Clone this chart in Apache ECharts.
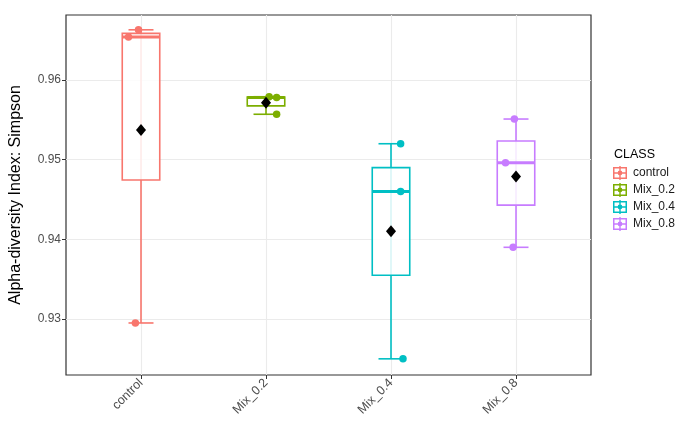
<!DOCTYPE html>
<html>
<head>
<meta charset="utf-8">
<script src="https://cdn.jsdelivr.net/npm/echarts@6/dist/echarts.min.js"></script>
<style>
html,body{margin:0;padding:0;background:#fff;}
#chart{width:684px;height:421px;}
</style>
</head>
<body>
<div id="chart"></div>
<script>
// ---- data ----
const categories = ['control', 'Mix_0.2', 'Mix_0.4', 'Mix_0.8'];
const controlValues = [0.9663, 0.9654, 0.9295];
const mix02Values = [0.9579, 0.9578, 0.9557];
const mix04Values = [0.9520, 0.9460, 0.9250];
const mix08Values = [0.9551, 0.9496, 0.9390];
// horizontal jitter of the sample points (category units)
const controlJitter = [-0.02, -0.10, -0.045];
const mix02Jitter = [0.025, 0.085, 0.085];
const mix04Jitter = [0.077, 0.077, 0.096];
const mix08Jitter = [-0.013, -0.084, -0.023];
// axis ticks
const yTicks = [0.93, 0.94, 0.95, 0.96];
const yMinorTicks = [0.925, 0.935, 0.945, 0.955, 0.965];
const yRange = [0.92297, 0.96816];

const groupValues = [controlValues, mix02Values, mix04Values, mix08Values];
const groupJitter = [controlJitter, mix02Jitter, mix04Jitter, mix08Jitter];
const colors = ['#F8766D', '#7CAE00', '#00BFC4', '#C77CFF'];
const xPositions = categories.map((c, i) => i + 1);

function quantile(arr, p) {
  const s = arr.slice().sort((a, b) => a - b);
  const h = (s.length - 1) * p;
  const lo = Math.floor(h), hi = Math.ceil(h);
  return s[lo] + (h - lo) * (s[hi] - s[lo]);
}
function boxStats(arr) {
  const q1 = quantile(arr, 0.25), med = quantile(arr, 0.5), q3 = quantile(arr, 0.75);
  const iqr = q3 - q1;
  const inside = arr.filter(v => v >= q1 - 1.5 * iqr && v <= q3 + 1.5 * iqr);
  return [Math.min(...inside), q1, med, q3, Math.max(...inside)];
}
function mean(arr) { return arr.reduce((a, b) => a + b, 0) / arr.length; }

function renderBox(params, api) {
  const x = api.value(0);
  const lo = api.coord([x, api.value(1)]);
  const q1 = api.coord([x, api.value(2)]);
  const med = api.coord([x, api.value(3)]);
  const q3 = api.coord([x, api.value(4)]);
  const hi = api.coord([x, api.value(5)]);
  const bw = api.size([0.3, 0])[0];
  const cw = api.size([0.2, 0])[0];
  const color = api.visual('color');
  const cx = lo[0];
  const ls = { stroke: color, lineWidth: 1.6 };
  return {
    type: 'group',
    children: [
      { type: 'line', shape: { x1: cx, y1: hi[1], x2: cx, y2: lo[1] }, style: ls },
      { type: 'line', shape: { x1: cx - cw / 2, y1: hi[1], x2: cx + cw / 2, y2: hi[1] }, style: ls },
      { type: 'line', shape: { x1: cx - cw / 2, y1: lo[1], x2: cx + cw / 2, y2: lo[1] }, style: ls },
      { type: 'rect', shape: { x: cx - bw / 2, y: q3[1], width: bw, height: q1[1] - q3[1] },
        style: { fill: 'rgba(255,255,255,0.85)', stroke: color, lineWidth: 1.6 } },
      { type: 'line', shape: { x1: cx - bw / 2, y1: med[1], x2: cx + bw / 2, y2: med[1] },
        style: { stroke: color, lineWidth: 3 } }
    ]
  };
}

const keyIcon = 'path://M1 1H15V13H1Z M2.5 2.5V11.5H13.5V2.5Z M1 6.3H15V7.7H1Z M7.3 0H8.7V14H7.3Z M10.4 7A2.4 2.4 0 1 1 5.6 7A2.4 2.4 0 1 1 10.4 7Z';

const series = [];
// grid lines
const gridLineData = [];
yMinorTicks.forEach(v => gridLineData.push({ yAxis: v, lineStyle: { color: '#ebebeb', width: 0.6, type: 'solid' } }));
yTicks.forEach(v => gridLineData.push({ yAxis: v, lineStyle: { color: '#ebebeb', width: 1.1, type: 'solid' } }));
xPositions.forEach(v => gridLineData.push({ xAxis: v, lineStyle: { color: '#ebebeb', width: 1.1, type: 'solid' } }));
series.push({
  type: 'line', name: 'gridlines', data: [], z: 0, silent: true,
  markLine: { z: 0, silent: true, symbol: ['none', 'none'], label: { show: false }, animation: false, data: gridLineData }
});

categories.forEach((cat, i) => {
  const vals = groupValues[i];
  series.push({
    type: 'custom', name: cat, color: colors[i], z: 2,
    renderItem: renderBox,
    encode: { x: 0, y: [1, 2, 3, 4, 5] },
    data: [[xPositions[i]].concat(boxStats(vals))]
  });
  series.push({
    type: 'scatter', name: cat, color: colors[i], z: 3,
    symbol: 'circle', symbolSize: 7.5,
    itemStyle: { opacity: 1 },
    data: vals.map((v, k) => [xPositions[i] + groupJitter[i][k], v])
  });
});
series.push({
  type: 'scatter', name: 'mean', z: 4, symbol: 'diamond', symbolSize: [10, 12],
  itemStyle: { color: '#000', opacity: 1 },
  data: categories.map((c, i) => [xPositions[i], mean(groupValues[i])])
});

const font = 'Liberation Sans, Arial, Helvetica, sans-serif';
const chart = echarts.init(document.getElementById('chart'), null, { renderer: 'canvas' });
chart.setOption({
  animation: false,
  backgroundColor: '#fff',
  textStyle: { fontFamily: font },
  title: {
    text: 'CLASS', left: 609, top: 143,
    textStyle: { fontSize: 12.5, fontWeight: 'normal', color: '#000', fontFamily: font }
  },
  legend: {
    orient: 'vertical', left: 608, top: 161,
    itemWidth: 16, itemHeight: 14, itemGap: 3,
    textStyle: { fontSize: 12, color: '#1a1a1a', fontFamily: font },
    data: categories.map((c, i) => ({ name: c, icon: keyIcon, itemStyle: { color: colors[i] } }))
  },
  grid: {
    left: 62, right: 93, top: 15, bottom: 46,
    show: true, borderColor: '#333', borderWidth: 1.2, backgroundColor: '#fff'
  },
  xAxis: {
    type: 'value', min: 0.4, max: 4.6,
    splitLine: { show: false },
    axisLine: { show: false },
    axisTick: { show: true, customValues: xPositions, length: 4, lineStyle: { color: '#333', width: 1 } },
    axisLabel: {
      customValues: xPositions,
      formatter: v => categories[Math.round(v) - 1],
      rotate: 45, color: '#4d4d4d', fontSize: 12.5, margin: 6, fontFamily: font
    }
  },
  yAxis: {
    type: 'value', min: yRange[0], max: yRange[1],
    splitLine: { show: false },
    axisLine: { show: false },
    axisTick: { show: true, customValues: yTicks, length: 4, lineStyle: { color: '#333', width: 1 } },
    axisLabel: {
      customValues: yTicks, formatter: v => v.toFixed(2),
      color: '#4d4d4d', fontSize: 12, margin: 5, fontFamily: font
    },
    name: 'Alpha-diversity Index: Simpson', nameLocation: 'middle', nameGap: 42,
    nameTextStyle: { fontSize: 16, color: '#000', fontFamily: font }
  },
  series: series
});
</script>
</body>
</html>
